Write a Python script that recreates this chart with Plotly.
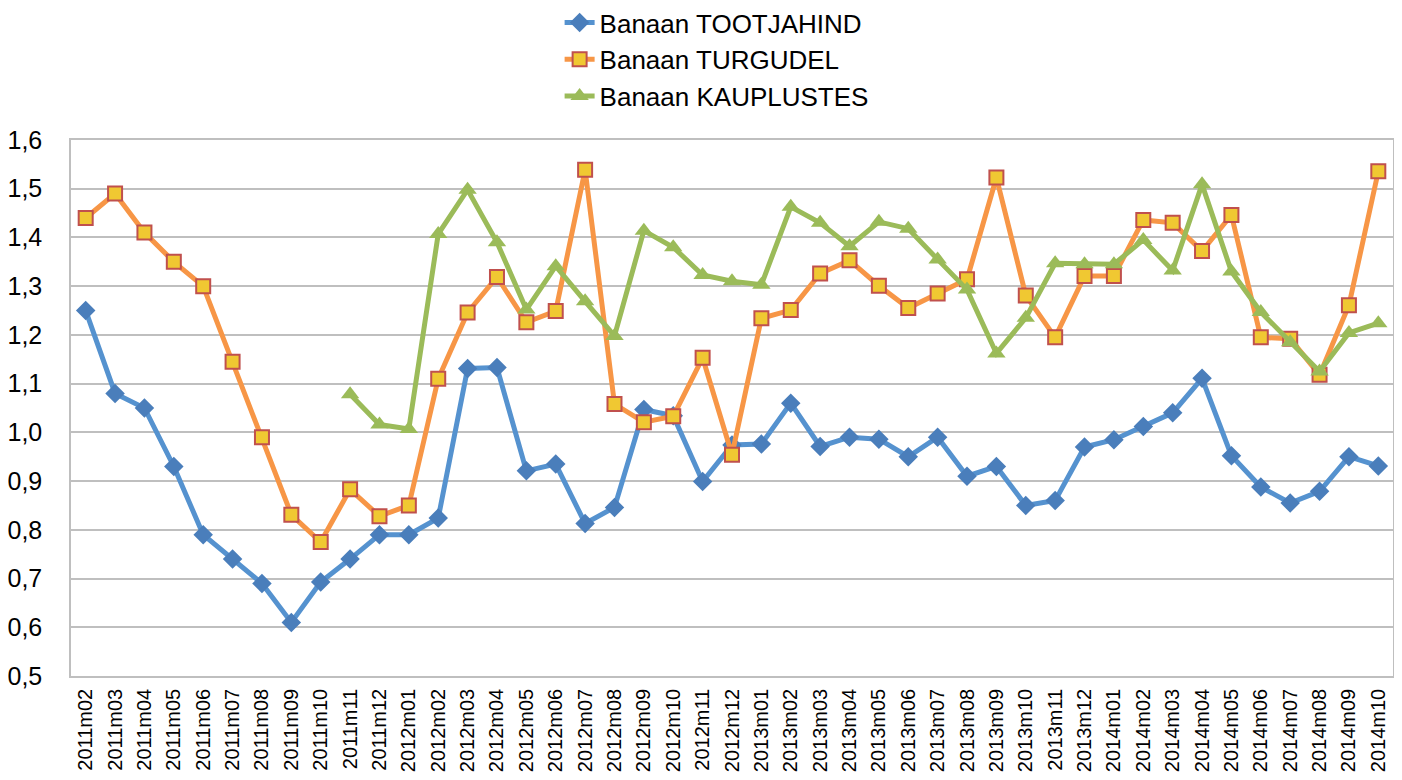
import plotly.graph_objects as go

months = (
    [f"2011m{m:02d}" for m in range(2, 13)]
    + [f"2012m{m:02d}" for m in range(1, 13)]
    + [f"2013m{m:02d}" for m in range(1, 13)]
    + [f"2014m{m:02d}" for m in range(1, 11)]
)

tootjahind = [
    1.25, 1.08, 1.05, 0.93, 0.79, 0.74, 0.69, 0.61, 0.693, 0.74, 0.79,
    0.79, 0.824, 1.131, 1.133, 0.921, 0.935, 0.813, 0.846, 1.047, 1.034, 0.899, 0.974,
    0.976, 1.06, 0.971, 0.99, 0.986, 0.95, 0.99, 0.91, 0.93, 0.85, 0.86, 0.97,
    0.985, 1.012, 1.04, 1.111, 0.952, 0.888, 0.855, 0.879, 0.95, 0.931,
]

turgudel = [
    1.44, 1.49, 1.41, 1.35, 1.30, 1.145, 0.99, 0.831, 0.775, 0.883, 0.828,
    0.85, 1.11, 1.246, 1.319, 1.226, 1.249, 1.539, 1.058, 1.021, 1.033, 1.153, 0.954,
    1.234, 1.251, 1.326, 1.353, 1.301, 1.255, 1.285, 1.314, 1.523, 1.281, 1.195, 1.321,
    1.321, 1.436, 1.43, 1.372, 1.446, 1.195, 1.192, 1.118, 1.261, 1.536,
]

kauplustes = [
    None, None, None, None, None, None, None, None, None, 1.078, 1.016,
    1.007, 1.407, 1.498, 1.39, 1.252, 1.341, 1.269, 1.198, 1.414, 1.38, 1.323, 1.31,
    1.303, 1.463, 1.43, 1.382, 1.432, 1.418, 1.355, 1.293, 1.162, 1.235, 1.347, 1.345,
    1.345, 1.395, 1.332, 1.509, 1.33, 1.247, 1.185, 1.125, 1.204, 1.224,
]

names = ["Banaan TOOTJAHIND", "Banaan TURGUDEL", "Banaan KAUPLUSTES"]

fig = go.Figure()
fig.add_trace(go.Scatter(
    x=months, y=tootjahind, name=names[0], mode="lines+markers",
    line=dict(color="#5592CF", width=5),
    marker=dict(symbol="diamond", size=15, color="#4A7EBB", line=dict(width=0)),
))
fig.add_trace(go.Scatter(
    x=months, y=turgudel, name=names[1], mode="lines+markers",
    line=dict(color="#F79646", width=5),
    marker=dict(symbol="square", size=14, color="#F0C832", line=dict(color="#C0504D", width=2)),
))
fig.add_trace(go.Scatter(
    x=months, y=kauplustes, name=names[2], mode="lines+markers",
    line=dict(color="#9BBB59", width=5),
    marker=dict(symbol="triangle-up", size=16, color="#9BBB59", line=dict(width=0)),
    connectgaps=False,
))

# page body has an 8px default margin, so the figure is sized to fit the window
fig.update_layout(
    width=1394, height=772,
    margin=dict(l=63, r=9, t=132, b=104, autoexpand=False),
    paper_bgcolor="white", plot_bgcolor="white",
    separators=", ",
    font=dict(family="Liberation Sans, Arial, sans-serif", color="black"),
    showlegend=True,
    legend=dict(
        orientation="v", xref="paper", yref="paper",
        x=0.3696, y=1.263, xanchor="left", yanchor="top",
        font=dict(size=26, color="black"), bgcolor="rgba(0,0,0,0)",
        tracegroupgap=0,
    ),
    xaxis=dict(
        type="category", tickangle=-90, tickfont=dict(size=20),
        tickmode="array", tickvals=months, ticktext=months,
        range=[-0.5, len(months) - 0.5],
        showgrid=False, showline=True, linecolor="#BFBFBF", linewidth=1.5,
        mirror=True, ticks="", automargin=False, ticklabelstandoff=3,
    ),
    yaxis=dict(
        range=[0.5, 1.6], dtick=0.1, tick0=0.5, tickformat=".1f",
        tickfont=dict(size=25), showgrid=True, gridcolor="#BFBFBF", gridwidth=1.5,
        showline=True, linecolor="#BFBFBF", linewidth=1.5, mirror=True,
        zeroline=False, ticks="", ticklabelstandoff=22, automargin=False,
    ),
)

fig.write_html("out.html")
